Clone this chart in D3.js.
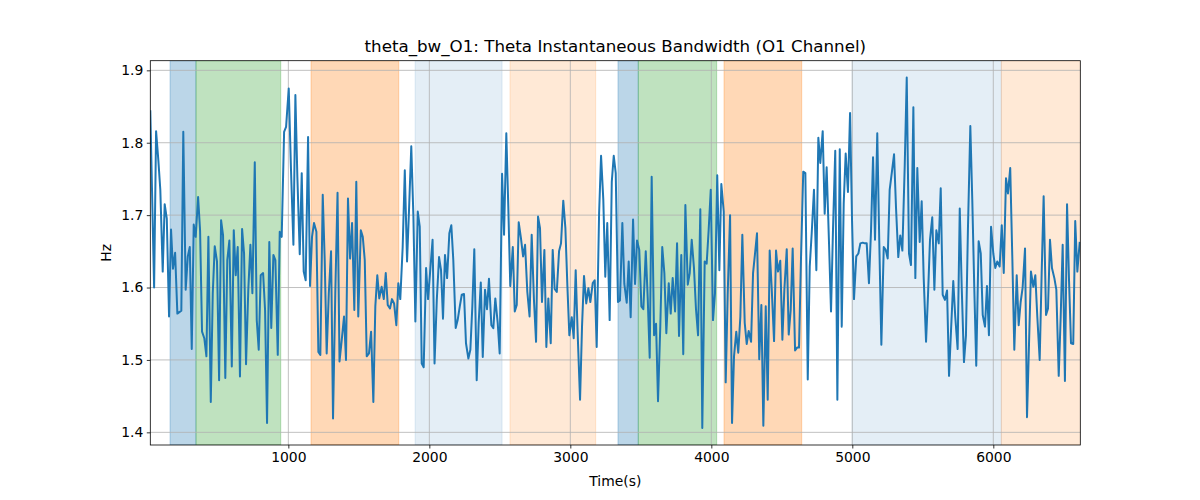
<!DOCTYPE html>
<html>
<head>
<meta charset="utf-8">
<script src="https://cdn.jsdelivr.net/npm/d3@7"></script>
<style>
  html, body { margin: 0; padding: 0; background: #fff; }
  svg { display: block; font-family: "DejaVu Sans", sans-serif; }
</style>
</head>
<body>
<svg id="chart" width="1200" height="500"></svg>
<script>
// ---- data ----
const times = [
  21,48,62,78,92,109,123,138,154,168,182,197,213,227,241,255,272,287,301,315,329,343,360,374,388,404,419,433,450,464,478,494,509,523,537,553,567,582,599,613,627,641,657,672,686,700,716,731,745,762,776,790,804,821,835,849,865,879,894,908,925,939,953,970,984,1003,
  1019,1036,1050,1064,1081,1095,1109,1123,1140,1154,1168,1182,1199,1213,1227,1244,1258,1272,1287,1303,1317,1333,1349,1363,
  1379,1395,1409,1423,1438,1452,1468,1482,1496,1514,1528,1542,1556,1572,1587,1603,1617,1631,1645,1662,1677,1691,1705,1721,1735,1750,1766,1780,1794,1811,1826,1842,1856,1872,1887,1901,1918,1932,1946,1960,1977,1991,2005,2023,2037,
  2053,2069,2083,2097,2111,2126,2142,2156,2170,2187,2201,2216,2230,2246,2260,2277,2291,2305,2319,2336,2350,2365,2379,2395,2409,2423,2440,2454,2468,2485,2499,2516,2530,2546,2560,2574,2592,2606,2620,2634,2650,2665,2679,2695,2711,
  2726,2742,2757,2771,2785,2799,2816,2830,2844,2861,2875,2889,2904,2920,2934,2950,2965,2979,2993,3010,3024,3038,3052,3069,3083,3097,3113,3128,3142,3159,3173,3187,3204,3218,3234,3248,3262,3279,3294,3308,3322,3338,3352,3369,3383,
  3400,3414,3428,3445,3459,3473,3489,3504,3518,3535,3549,3563,3577,3594,3608,3622,3638,3652,3667,3681,3698,3712,3726,3743,3757,3771,3787,3801,3816,3833,3847,3861,3877,3891,3906,3922,3936,3953,3967,3981,3996,4012,4026,4042,4057,
  4071,4088,4102,4116,4133,4147,4161,4177,4191,4206,4220,4237,4251,4265,4282,4296,4310,4324,4340,4355,4369,4386,4400,4414,4428,4445,4459,4473,4489,4504,4518,4535,4549,4563,4577,4594,4608,4622,4636,4652,4667,4684,4698,4712,4728,
  4745,4759,4773,4790,4804,4818,4835,4849,4863,4879,4894,4911,4925,4939,4953,4969,4984,4998,5012,5028,5043,5057,5074,5088,5102,5118,5133,5147,5161,5177,5191,5206,5223,5237,5251,5265,5281,5296,5310,5326,5340,5355,5372,5386,
  5402,5416,5433,5447,5461,5478,5492,5506,5523,5537,5551,5567,5582,5596,5613,5627,5641,5657,5672,5686,5700,5716,5730,5747,5762,5776,5792,5806,5820,5837,5851,5865,5879,5896,5911,5925,5941,5955,5969,5984,6000,6014,6028,6045,6060,6074,
  6090,6104,6120,6135,6149,6166,6180,6194,6208,6225,6239,6253,6267,6284,6298,6312,6329,6343,6357,6374,6388,6402,6416,6433,6447,6464,6478,6492,6508,6523,6537,6551,6567,6581,6596,6613
];
const thetaBw = [
  1.845,1.600,1.816,1.776,1.735,1.622,1.715,1.695,1.560,1.680,1.626,1.648,1.564,1.566,1.568,1.815,1.597,1.643,1.656,1.515,1.687,1.670,1.725,1.679,1.539,1.530,1.505,1.670,1.442,1.592,1.657,1.636,1.472,1.693,1.672,1.475,1.638,1.665,1.491,1.679,1.617,1.656,1.477,1.681,1.647,1.494,1.597,1.659,1.592,1.773,1.555,1.514,1.617,1.620,1.569,1.413,1.663,1.544,1.645,1.638,1.507,1.677,1.670,1.815,1.822,1.875,
  1.762,1.659,1.866,1.753,1.646,1.758,1.622,1.610,1.808,1.602,1.670,1.689,1.677,1.511,1.507,1.728,1.638,1.509,1.592,1.650,1.419,1.592,1.731,1.498,
  1.528,1.560,1.500,1.723,1.640,1.689,1.569,1.746,1.560,1.679,1.670,1.638,1.505,1.509,1.539,1.442,1.574,1.617,1.585,1.601,1.584,1.620,1.576,1.571,1.584,1.578,1.548,1.606,1.584,1.656,1.762,1.636,1.707,1.795,1.698,1.553,1.705,1.684,1.495,1.490,1.627,1.584,1.620,1.666,1.495,
  1.583,1.642,1.624,1.557,1.645,1.613,1.675,1.686,1.638,1.544,1.555,1.574,1.590,1.591,1.523,1.502,1.514,1.574,1.653,1.472,1.551,1.607,1.504,1.597,1.570,1.612,1.548,1.544,1.585,1.551,1.509,1.757,1.673,1.813,1.712,1.602,1.656,1.567,1.576,1.690,1.668,1.643,1.659,1.594,1.560,
  1.673,1.583,1.525,1.698,1.682,1.580,1.652,1.518,1.585,1.523,1.652,1.598,1.594,1.650,1.661,1.720,1.682,1.603,1.534,1.559,1.530,1.624,1.537,1.445,1.546,1.616,1.578,1.599,1.580,1.606,1.610,1.518,1.702,1.782,1.721,1.615,1.689,1.555,1.746,1.782,1.758,1.580,1.582,1.689,1.605,
  1.579,1.636,1.559,1.694,1.605,1.665,1.652,1.574,1.570,1.650,1.585,1.503,1.753,1.534,1.550,1.443,1.546,1.656,1.620,1.537,1.606,1.564,1.613,1.567,1.661,1.533,1.645,1.508,1.714,1.604,1.620,1.666,1.627,1.571,1.534,1.708,1.406,1.636,1.633,1.679,1.735,1.555,1.592,1.755,1.624,
  1.743,1.705,1.469,1.590,1.700,1.413,1.505,1.539,1.510,1.560,1.673,1.551,1.522,1.540,1.525,1.620,1.647,1.675,1.501,1.576,1.409,1.574,1.445,1.651,1.600,1.526,1.651,1.622,1.637,1.528,1.597,1.653,1.535,1.569,1.654,1.513,1.517,1.517,1.640,1.760,1.758,1.473,1.629,1.675,1.735,
  1.624,1.807,1.772,1.816,1.702,1.766,1.660,1.567,1.680,1.789,1.445,1.791,1.546,1.716,1.785,1.732,1.841,1.693,1.584,1.643,1.647,1.661,1.662,1.661,1.661,1.606,1.680,1.780,1.666,1.813,1.666,1.521,1.656,1.652,1.640,1.735,1.760,1.784,1.710,1.642,1.672,1.651,1.770,1.890,
  1.647,1.631,1.849,1.613,1.765,1.663,1.719,1.615,1.525,1.590,1.666,1.697,1.597,1.679,1.661,1.737,1.590,1.583,1.596,1.478,1.540,1.609,1.560,1.515,1.709,1.600,1.497,1.534,1.680,1.823,1.720,1.600,1.492,1.664,1.647,1.562,1.546,1.602,1.534,1.684,1.647,1.627,1.636,1.629,1.686,1.620,
  1.751,1.730,1.765,1.640,1.514,1.617,1.548,1.580,1.600,1.654,1.421,1.520,1.622,1.601,1.617,1.560,1.500,1.620,1.726,1.562,1.571,1.666,1.627,1.613,1.597,1.478,1.560,1.659,1.471,1.715,1.610,1.523,1.522,1.692,1.622,1.663
];
const spanStart = [161, 345, 1161, 1899, 2572, 3338, 3482, 4090, 4998, 6057];
const spanEnd   = [345, 946, 1783, 2516, 3180, 3482, 4038, 4641, 6057, 6700];
const spanKind  = ["blue", "green", "orange", "lightblue", "lightorange", "blue", "green", "orange", "lightblue", "lightorange"];
const xTicks = [1000, 2000, 3000, 4000, 5000, 6000];
const yTicks = [1.4, 1.5, 1.6, 1.7, 1.8, 1.9];
const titleText = "theta_bw_O1: Theta Instantaneous Bandwidth (O1 Channel)";
const xLabel = "Time(s)";
const yLabel = "Hz";

// ---- styles ----
const spanStyle = {
  blue:        { color: "#1f77b4", alpha: 0.30 },
  green:       { color: "#2ca02c", alpha: 0.30 },
  orange:      { color: "#ff7f0e", alpha: 0.30 },
  lightblue:   { color: "#1f77b4", alpha: 0.12 },
  lightorange: { color: "#ff7f0e", alpha: 0.17 }
};

const L = 150.3, R = 1080.3, T = 60.7, B = 445;
const svg = d3.select("#chart");

const x = d3.scaleLinear().domain([21, 6617]).range([L, R]);
const y = d3.scaleLinear().domain([1.3825, 1.9133]).range([B, T]);

const clip = svg.append("defs").append("clipPath").attr("id", "plotclip")
  .append("rect").attr("x", L).attr("y", T).attr("width", R - L).attr("height", B - T);

// spans
const spans = spanStart.map((s, i) => ({ s, e: spanEnd[i], k: spanKind[i] }));
svg.append("g").attr("clip-path", "url(#plotclip)")
  .selectAll("rect").data(spans).join("rect")
  .attr("x", d => x(d.s))
  .attr("width", d => x(d.e) - x(d.s))
  .attr("y", T).attr("height", B - T)
  .attr("fill", d => spanStyle[d.k].color)
  .attr("fill-opacity", d => spanStyle[d.k].alpha)
  .attr("stroke", d => spanStyle[d.k].color)
  .attr("stroke-opacity", d => spanStyle[d.k].alpha)
  .attr("stroke-width", 1);

// grid
const grid = svg.append("g");
grid.selectAll("line.gx").data(xTicks).join("line")
  .attr("x1", d => x(d)).attr("x2", d => x(d))
  .attr("y1", T).attr("y2", B)
  .attr("stroke", "#b0b0b0").attr("stroke-width", 0.8);
grid.selectAll("line.gy").data(yTicks).join("line")
  .attr("x1", L).attr("x2", R)
  .attr("y1", d => y(d)).attr("y2", d => y(d))
  .attr("stroke", "#b0b0b0").attr("stroke-width", 0.8);

// line
const pts = times.map((t, i) => [t, thetaBw[i]]).filter(d => d[1] !== undefined);
svg.append("path")
  .attr("clip-path", "url(#plotclip)")
  .datum(pts)
  .attr("fill", "none")
  .attr("stroke", "#1f77b4")
  .attr("stroke-width", 2)
  .attr("stroke-linejoin", "round")
  .attr("stroke-linecap", "butt")
  .attr("d", d3.line().x(d => x(d[0])).y(d => y(d[1])));

// axes
const xAxis = d3.axisBottom(x).tickValues(xTicks).tickFormat(d3.format("d")).tickSize(3.5).tickPadding(3.5);
const yAxis = d3.axisLeft(y).tickValues(yTicks).tickFormat(d3.format(".1f")).tickSize(3.5).tickPadding(3.5);

const gx = svg.append("g").attr("transform", `translate(0,${B})`).call(xAxis);
const gy = svg.append("g").attr("transform", `translate(${L},0)`).call(yAxis);
[gx, gy].forEach(g => {
  g.select(".domain").remove();
  g.selectAll(".tick line").attr("stroke", "#000").attr("stroke-width", 0.8);
  g.selectAll(".tick text").attr("fill", "#000").style("font-size", "13.9px").style("font-family", "DejaVu Sans, sans-serif");
});

// frame
svg.append("rect").attr("x", L).attr("y", T).attr("width", R - L).attr("height", B - T)
  .attr("fill", "none").attr("stroke", "#000").attr("stroke-width", 0.8);

// labels
svg.append("text").attr("x", (L + R) / 2).attr("y", 52)
  .attr("text-anchor", "middle").style("font-size", "16.7px").attr("fill", "#000")
  .text(titleText);
svg.append("text").attr("x", (L + R) / 2).attr("y", 486)
  .attr("text-anchor", "middle").style("font-size", "13.9px").attr("fill", "#000")
  .text(xLabel);
svg.append("text")
  .attr("transform", `translate(111,${(T + B) / 2}) rotate(-90)`)
  .attr("text-anchor", "middle").style("font-size", "13.9px").attr("fill", "#000")
  .text(yLabel);
</script>
</body>
</html>
